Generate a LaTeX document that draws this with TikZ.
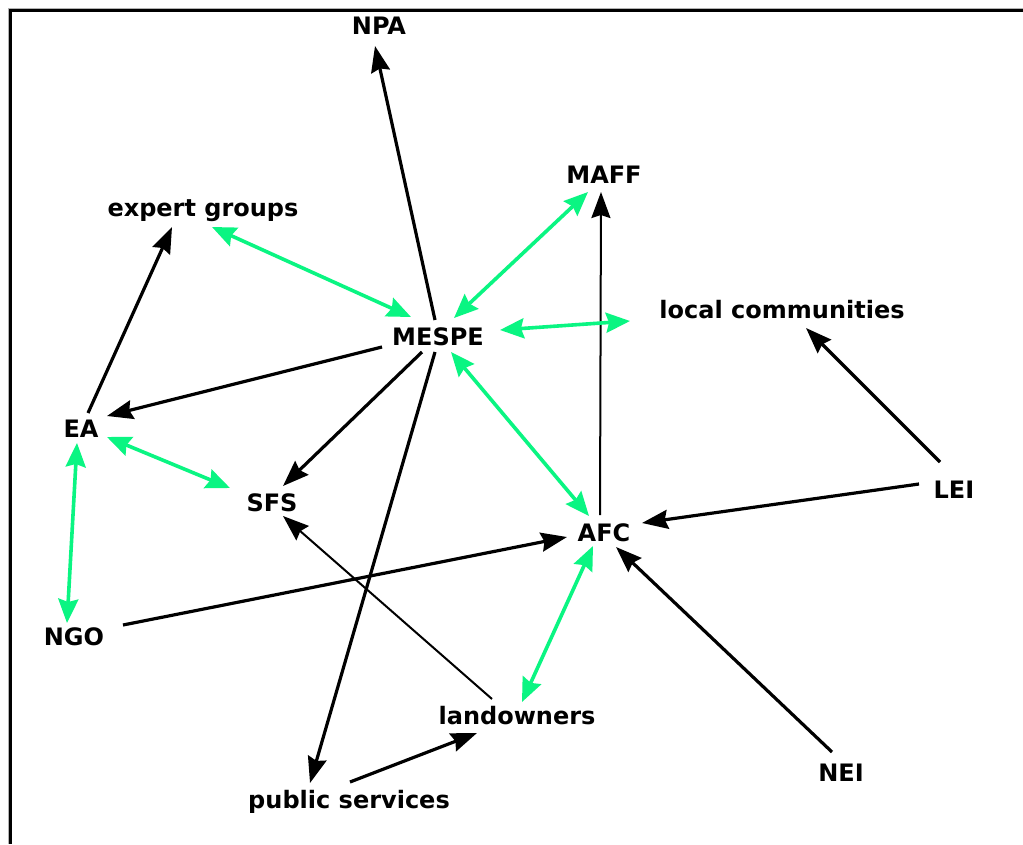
\documentclass[tikz,border=0pt]{standalone}
\usepackage{fontspec}
\setmainfont{DejaVu Sans}
\usetikzlibrary{arrows.meta,calc}
\definecolor{linkgreen}{RGB}{10,245,130}
\begin{document}
\begin{tikzpicture}[x=1pt,y=-1pt,
  actor/.style={font=\bfseries\fontsize{24}{24}\selectfont, inner sep=0pt,
    text height=17pt, text depth=0pt},
  flow/.style={line width=3.2pt, -{Stealth[length=26pt,width=19pt,inset=3pt]}},
  thinflow/.style={line width=2pt, -{Stealth[length=26pt,width=19pt,inset=3pt]}},
  mutual/.style={linkgreen, line width=3.6pt,
    {Stealth[length=24pt,width=20pt,inset=3pt]}-{Stealth[length=24pt,width=20pt,inset=3pt]}}]
\useasboundingbox (0,0) rectangle (1023,844);
\fill[white] (0,0) rectangle (1023,844);

% frame
\draw[gray!60, line width=1pt] (8.5,844) -- (8.5,8.5) -- (1023,8.5);
\draw[line width=3pt] (10.5,844) -- (10.5,10.5) -- (1023,10.5);

% actors
\node[actor] (npa)    at (379,26)  {NPA};
\node[actor] (maff)   at (604,175) {MAFF};
\node[actor] (expert) at (203,208) {expert groups};
\node[actor] (local)  at (782,310) {local communities};
\node[actor] (mespe)  at (438,337) {MESPE};
\node[actor] (ea)     at (81,429)  {EA};
\node[actor] (sfs)    at (272,503) {SFS};
\node[actor] (ngo)    at (74,637)  {NGO};
\node[actor] (afc)    at (604,533) {AFC};
\node[actor] (lei)    at (954,490) {LEI};
\node[actor] (land)   at (517,716) {landowners};
\node[actor] (pub)    at (349,800) {public services};
\node[actor] (nei)    at (841,773) {NEI};

% one-way links
\draw[flow] ($(mespe)+(-3,-17)$) -- ($(npa)+(-4,20)$);
\draw[flow] ($(mespe)+(-3,15)$) -- ($(pub)+(-39,-17)$);
\draw[flow] ($(mespe)+(-16,15)$) -- ($(sfs)+(11,-17)$);
\draw[flow] ($(mespe)+(-56,10)$) -- ($(ea)+(26,-13)$);
\draw[flow] ($(ea)+(7,-16)$) -- ($(expert)+(-31,19)$);
\draw[thinflow] ($(afc)+(-4,-18)$) -- ($(maff)+(-3,17)$);
\draw[flow] ($(lei)+(-35,-6)$) -- ($(afc)+(38,-10)$);
\draw[flow] ($(lei)+(-14,-28)$) -- ($(local)+(24,18)$);
\draw[flow] ($(nei)+(-9,-21)$) -- ($(afc)+(12,14)$);
\draw[flow] ($(ngo)+(49,-12)$) -- ($(afc)+(-37,4)$);
\draw[thinflow] ($(land)+(-25,-17)$) -- ($(sfs)+(11,13)$);
\draw[flow] ($(pub)+(1,-18)$) -- ($(land)+(-40,17)$);

% two-way links
\draw[mutual] ($(expert)+(9,19)$) -- ($(mespe)+(-27,-20)$);
\draw[mutual] ($(maff)+(-16,17)$) -- ($(mespe)+(16,-19)$);
\draw[mutual] ($(mespe)+(62,-7)$) -- ($(local)+(-152,11)$);
\draw[mutual] ($(mespe)+(13,15)$) -- ($(afc)+(-15,-17)$);
\draw[mutual] ($(afc)+(-11,13)$) -- ($(land)+(5,-14)$);
\draw[mutual] ($(ea)+(26,8)$) -- ($(sfs)+(-42,-15)$);
\draw[mutual] ($(ea)+(-4,14)$) -- ($(ngo)+(-7,-14)$);
\end{tikzpicture}
\end{document}
